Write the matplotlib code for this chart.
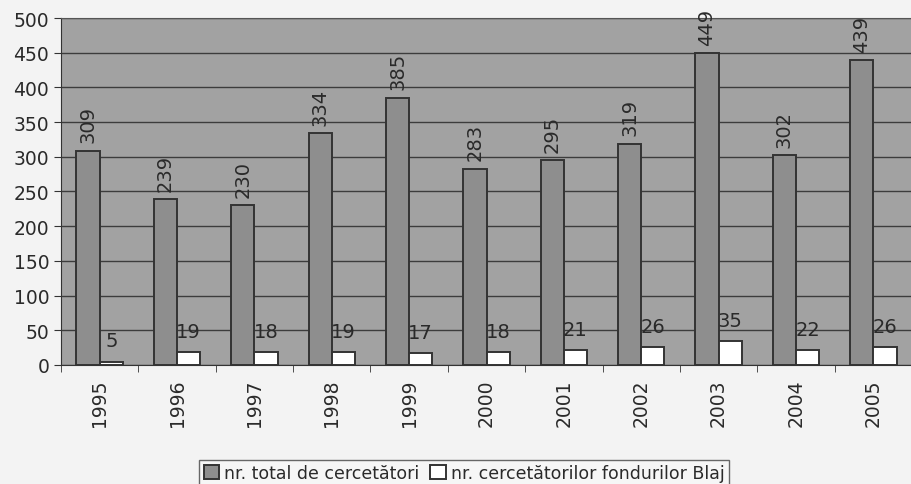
import matplotlib.pyplot as plt
import numpy as np

years = ["1995", "1996", "1997", "1998", "1999", "2000",
         "2001", "2002", "2003", "2004", "2005"]
total_researchers = [309, 239, 230, 334, 385, 283, 295, 319, 449, 302, 439]
blaj_researchers = [5, 19, 18, 19, 17, 18, 21, 26, 35, 22, 26]

PLOT_BG = "#a2a2a2"
DARK_BAR = "#8e8e8e"
TEXT = "#2a2a2a"

plt.rcParams["font.family"] = ["DejaVu Sans"]

fig = plt.figure(figsize=(9.12, 4.85), dpi=100)
fig.patch.set_facecolor("#f3f3f3")
ax = fig.add_axes([0.0669, 0.2454, 0.9331, 0.7154])
ax.set_facecolor(PLOT_BG)

x = np.arange(len(years))
w = 0.30
b1 = ax.bar(x - w / 2, total_researchers, w, color=DARK_BAR, edgecolor="#333333",
            linewidth=1.4, zorder=3, label="nr. total de cercetători")
b2 = ax.bar(x + w / 2, blaj_researchers, w, color="white", edgecolor="#333333",
            linewidth=1.4, zorder=3, label="nr. cercetătorilor fondurilor Blaj")

# value labels
for rect, v in zip(b1, total_researchers):
    ax.annotate(str(v), (rect.get_x() + rect.get_width() / 2, v),
                xytext=(0, 6), textcoords="offset points", rotation=90,
                ha="center", va="bottom", fontsize=14, color=TEXT, zorder=5)
for rect, v in zip(b2, blaj_researchers):
    ax.annotate(str(v), (rect.get_x() + rect.get_width() / 2, v),
                xytext=(0, 8), textcoords="offset points",
                ha="center", va="bottom", fontsize=14, color=TEXT, zorder=5)

ax.set_ylim(0, 500)
ax.set_xlim(-0.5, len(years) - 0.5)
ax.set_yticks(range(0, 501, 50))
ax.yaxis.grid(True, color="#3c3c3c", linewidth=1.0, zorder=1)
ax.set_axisbelow(True)

ax.set_xticks(x)
ax.set_xticklabels(years, rotation=90, fontsize=13.5, color=TEXT)
ax.tick_params(axis="x", length=0, pad=10)
ax.set_xticks(np.arange(-0.5, len(years), 1), minor=True)
ax.tick_params(axis="x", which="minor", length=5, color="#333333")
ax.tick_params(axis="y", labelsize=13.5, labelcolor=TEXT, length=5, color="#333333")

ax.spines["right"].set_visible(False)
ax.spines["left"].set_color("#333333")
ax.spines["bottom"].set_color("#333333")
ax.spines["top"].set_color("#555555")

fig.legend(handles=[b1, b2], loc="upper center", bbox_to_anchor=(0.509, 0.068),
           ncol=2, frameon=True, fontsize=12.5, handlelength=0.9, handleheight=0.9,
           handletextpad=0.3, columnspacing=0.6, borderpad=0.25, fancybox=False,
           edgecolor="#444444", facecolor="#f7f7f7", labelcolor=TEXT)

fig.savefig("out.png", dpi=100, facecolor=fig.get_facecolor())
